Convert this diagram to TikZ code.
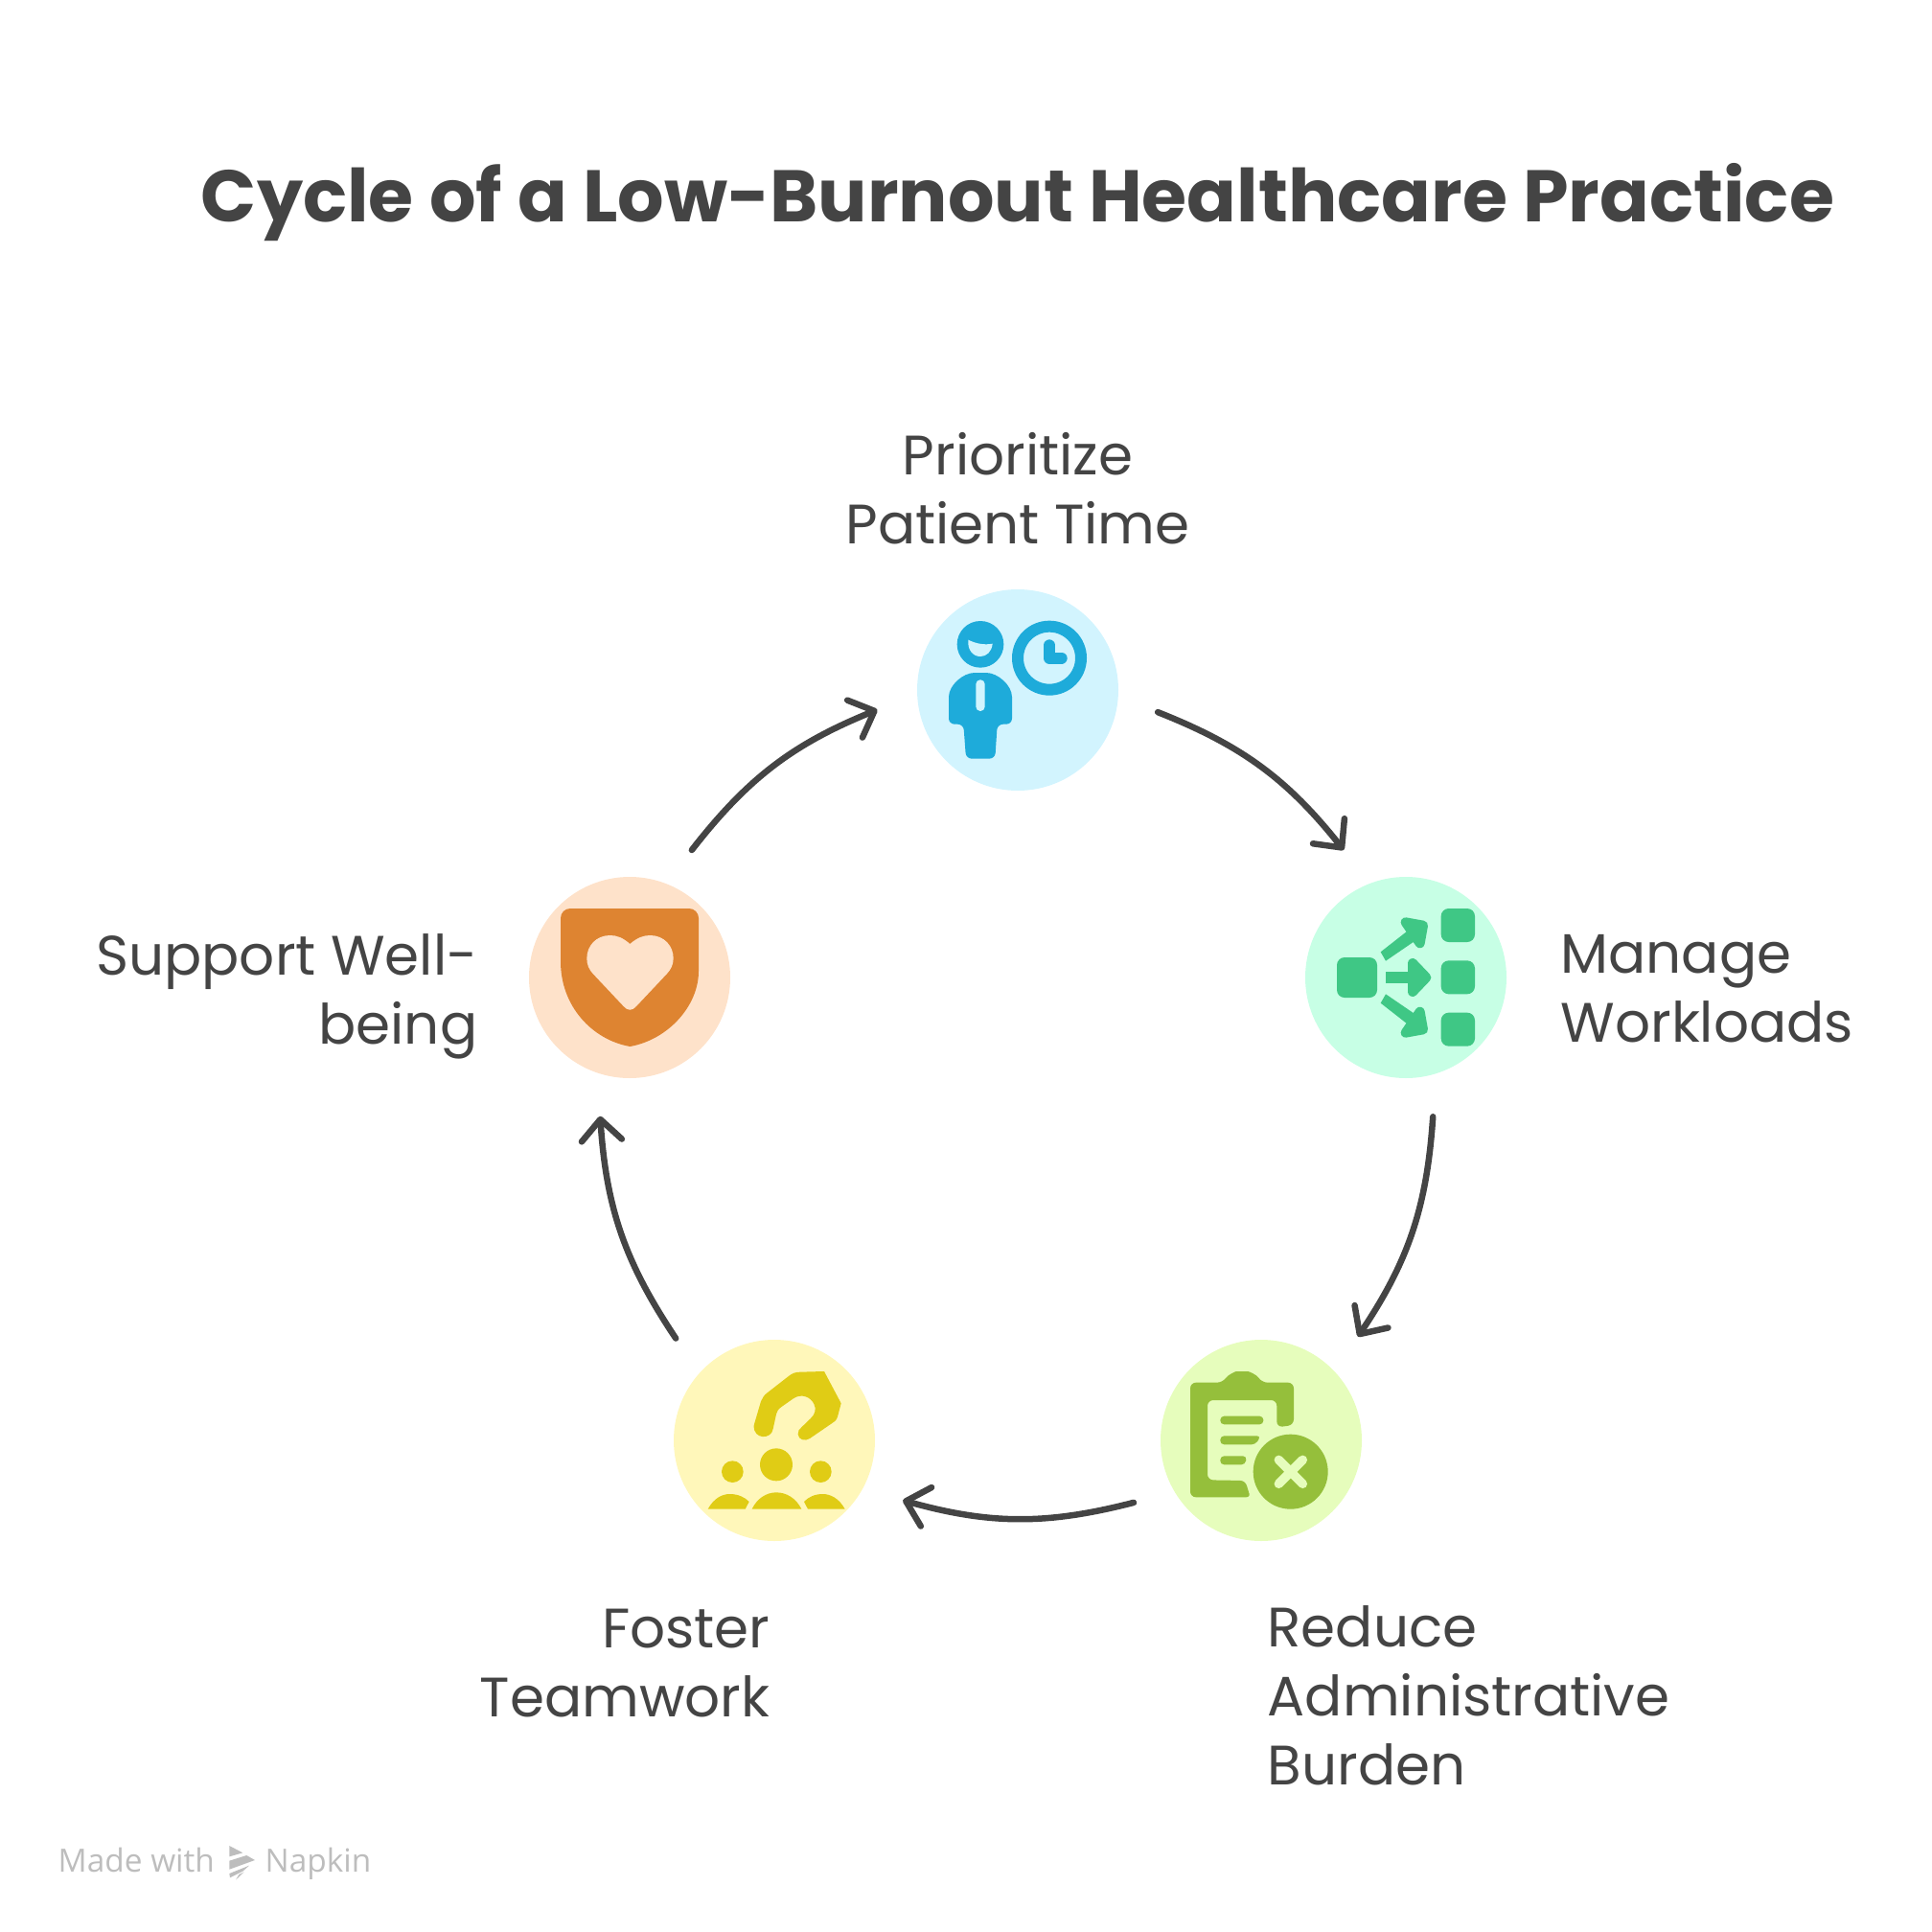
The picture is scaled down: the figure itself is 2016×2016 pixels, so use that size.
\documentclass[tikz,border=0pt]{standalone}
\usepackage{fontspec}
\setmainfont{Poppins}
\newfontfamily\markfont{Open Sans}
\usetikzlibrary{arrows.meta, calc, positioning}

\definecolor{inkgray}{HTML}{444444}
\definecolor{markgray}{HTML}{BDBDBD}
\definecolor{skybg}{HTML}{D2F4FE}
\definecolor{skyfg}{HTML}{1EABDA}
\definecolor{mintbg}{HTML}{C7FFE5}
\definecolor{mintfg}{HTML}{3FC785}
\definecolor{limebg}{HTML}{E6FDBC}
\definecolor{limefg}{HTML}{95BF3B}
\definecolor{lemonbg}{HTML}{FFF7BA}
\definecolor{lemonfg}{HTML}{E0CC15}
\definecolor{peachbg}{HTML}{FEE2CA}
\definecolor{peachfg}{HTML}{DE8431}

\tikzset{
  stagedisc/.style={circle, draw=none, fill=#1, minimum size=21mm, inner sep=0pt, outer sep=4.3mm},
  stagelabel/.style={inner sep=0pt, text=inkgray, font=\fontsize{16.5}{20.5}\selectfont},
  marklabel/.style={inner sep=0pt, text=markgray, anchor=base west, font=\markfont\fontsize{9.5}{11}\selectfont},
  cyclearrow/.style={-{Straight Barb[round, length=2.2mm, width=4.2mm, line width=.65mm]}, line width=.65mm, draw=inkgray, line cap=round, bend left=15},
  flowhead/.style={draw=mintfg, fill=mintfg, line width=1mm, line join=round}
}

\begin{document}
\begin{tikzpicture}[x=.1mm, y=-.1mm]
  \useasboundingbox (0,0) rectangle (2016,2016);
  \node[inner sep=0pt, text=inkgray, font=\fontsize{21.7}{26}\selectfont\bfseries, anchor=base] (title) at (1062,231) {Cycle of a Low-Burnout Healthcare Practice};

  % discs
  \node[stagedisc=skybg] (patient) at (1062,720) {};
  \node[stagedisc=mintbg] (workload) at (1467,1020) {};
  \node[stagedisc=limebg] (admin) at (1316,1503) {};
  \node[stagedisc=lemonbg] (team) at (808,1503) {};
  \node[stagedisc=peachbg] (wellbeing) at (657,1020) {};

  % labels
  \node[stagelabel, align=center] (patientlabel) at (1062,510) {Prioritize\\Patient Time};
  \node[stagelabel, align=left, anchor=west] (workloadlabel) at (1628,1032) {Manage\\Workloads};
  \node[stagelabel, align=left, anchor=north west] (adminlabel) at (1322,1675) {Reduce\\Administrative\\Burden};
  \node[stagelabel, align=right, anchor=north east] (teamlabel) at (804,1678) {Foster\\Teamwork};
  \node[stagelabel, align=right, anchor=east] (wellbeinglabel) at (499,1040) {Support Well-\\being};

  % cycle
  \draw[cyclearrow] (patient.-9.5) to (workload.116);
  \draw[cyclearrow] (workload.-79) to (admin.47.4);
  \draw[cyclearrow] (admin.206.4) to (team.-25.9);
  \draw[cyclearrow] (team.134) to (wellbeing.258.8);
  \draw[cyclearrow] (wellbeing.64.5) to (patient.188.4);

  % person and clock
  \begin{scope}[shift={(940,600)}, scale=1/3, fill=skyfg]
    \fill (249,217) circle (73);
    \fill[skybg] (211,203) .. controls (235,215) and (262,220) .. (287,215) .. controls (285,240) and (268,255) .. (249,255) .. controls (226,255) and (208,235) .. (211,203) -- cycle;
    \fill[rounded corners=.6mm] (150,467) -- (150,400) .. controls (150,345) and (195,306) .. (249,306) .. controls (303,306) and (348,345) .. (348,400) -- (348,467) -- (302,467) -- (295,575) -- (204,575) -- (196,467) -- cycle;
    \fill[skybg, rounded corners=.45mm] (235,328) rectangle (263,426);
    \draw[skyfg, line width=1.2mm] (465,260) circle (99);
    \draw[skyfg, line width=1.2mm, line cap=round, line join=round] (465,220) -- (465,260) -- (503,260);
  \end{scope}

  % branching flow
  \begin{scope}[shift={(1350,900)}, scale=1/3, fill=mintfg]
    \fill[rounded corners=.8mm] (135,297) rectangle (261,423);
    \foreach \ytop in {144,307,470}
      \fill[rounded corners=.8mm] (461,\ytop) rectangle (567,\ytop+105);
    \fill (288,343) rectangle (372,378);
    \draw[flowhead] (372,315) -- (415,360) -- (372,405) -- cycle;
    \fill (272,280) -- (355,215) -- (380,245) -- (288,308) -- cycle;
    \draw[flowhead] (350,187) -- (405,197) -- (395,253) -- cycle;
    \fill (272,440) -- (355,505) -- (380,475) -- (288,412) -- cycle;
    \draw[flowhead] (350,533) -- (405,523) -- (395,467) -- cycle;
  \end{scope}

  % clipboard with cross
  \begin{scope}[shift={(1200,1385)}, scale=1/3, fill=limefg]
    \fill[rounded corners=.6mm] (228,173) .. controls (245,148) and (268,138) .. (288,138) .. controls (310,138) and (333,148) .. (350,173) -- (450,173) -- (450,306) -- (397,313) -- (397,228) -- (180,228) -- (180,478) -- (300,480) .. controls (304,500) and (310,518) .. (318,532) -- (126,532) -- (126,173) -- cycle;
    \fill[rounded corners=.4mm] (220,278) rectangle (355,304);
    \fill[rounded corners=.4mm] (220,340) -- (347,340) -- (330,367) -- (220,367) -- cycle;
    \fill[rounded corners=.4mm] (220,403) -- (303,403) -- (298,430) -- (220,430) -- cycle;
    \fill (440,452) circle (117);
    \draw[limebg, line width=.95mm, line cap=round] (403,415) -- (478,490) (478,415) -- (403,490);
  \end{scope}

  % hook over three people
  \begin{scope}[shift={(690,1385)}, scale=1/3, fill=lemonfg]
    \fill (292,300) -- (312,232) .. controls (316,222) and (322,212) .. (332,205) -- (400,152) .. controls (410,144) and (420,140) .. (435,140) -- (510,138) -- (563,238) -- (552,280) .. controls (548,292) and (542,296) .. (535,300) -- (465,348) .. controls (450,358) and (430,352) .. (428,335) .. controls (427,325) and (432,318) .. (440,312) -- (468,285) .. controls (482,272) and (486,255) .. (478,240) .. controls (468,218) and (438,205) .. (412,224) -- (375,250) .. controls (365,257) and (362,265) .. (360,272) -- (350,318) .. controls (345,352) and (288,352) .. (290,308) -- cycle;
    \fill (360,430) circle (51);
    \fill (223,452) circle (34);
    \fill (499,452) circle (34);
    \fill (284,569) .. controls (300,535) and (330,517) .. (360,517) .. controls (392,517) and (422,535) .. (439,569) -- cycle;
    \fill (146,569) .. controls (165,535) and (190,522) .. (215,522) .. controls (240,522) and (262,532) .. (275,546) -- (263,569) -- cycle;
    \fill (575,569) .. controls (556,535) and (530,522) .. (505,522) .. controls (480,522) and (460,532) .. (447,546) -- (459,569) -- cycle;
  \end{scope}

  % shield with heart
  \begin{scope}[shift={(540,900)}, scale=1/3, fill=peachfg]
    \fill[rounded corners=1mm] (135,310) -- (135,144) -- (567,144) -- (567,310) [sharp corners] .. controls (567,450) and (470,555) .. (352,576) .. controls (234,555) and (135,450) .. (135,310) -- cycle;
    \fill[peachbg] (352,255) .. controls (375,235) and (395,228) .. (415,228) .. controls (460,228) and (488,262) .. (488,300) .. controls (488,320) and (480,335) .. (468,348) -- (372,450) .. controls (360,465) and (344,465) .. (332,450) -- (236,348) .. controls (224,335) and (217,320) .. (217,300) .. controls (217,262) and (245,228) .. (290,228) .. controls (310,228) and (330,235) .. (352,255) -- cycle;
  \end{scope}

  % watermark
  \node[marklabel] (madewith) at (60,1953) {Made with};
  \node[marklabel] (napkin) at (276,1953) {Napkin};
  \begin{scope}[shift={(40,1900)}, scale=1/3, fill=markgray]
    \fill (598,78) -- (640,100) -- (598,112) -- cycle;
    \fill (598,125) -- (652,108) -- (678,123) -- (598,152) -- cycle;
    \fill (598,165) -- (660,140) -- (640,158) -- (600,178) -- cycle;
    \fill (618,185) -- (628,168) -- (644,160) -- cycle;
  \end{scope}
\end{tikzpicture}
\end{document}
